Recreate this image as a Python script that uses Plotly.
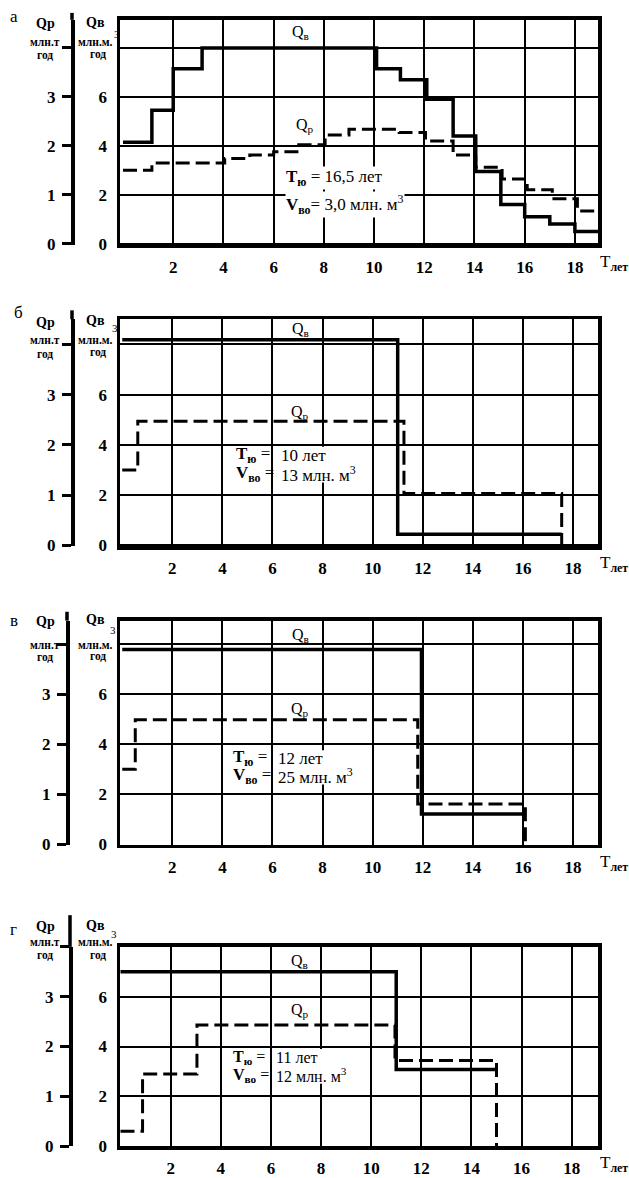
import plotly.graph_objects as go

W, H = 629, 1178
SERIF = "Liberation Serif"

# ---- panel а: stepwise rates ----
a_qv_t = [0, 1.15, 2.0, 3.15, 10.1, 11.05, 12.1, 13.15, 14.05, 15.05, 16.0, 17.0, 18.0, 18.92]
a_qv = [4.15, 5.45, 7.15, 8.0, 7.15, 6.7, 5.9, 4.4, 2.95, 1.6, 1.1, 0.8, 0.5]
a_qp_t = [0, 1.15, 4.05, 5.05, 6.0, 7.0, 8.05, 9.0, 11.0, 12.05, 13.15, 14.05, 15.1, 16.1, 17.1, 18.1, 18.92]
a_qp = [1.5, 1.65, 1.74, 1.81, 1.88, 2.02, 2.22, 2.34, 2.27, 2.1, 1.81, 1.56, 1.32, 1.1, 0.92, 0.67]

# ---- panel б ----
b_qv_t = [0, 11.0, 17.55]
b_qv = [8.18, 0.44]
b_qp_t = [0, 0.62, 11.25, 17.55]
b_qp = [1.5, 2.47, 1.03]

# ---- panel в ----
v_qv_t = [0, 11.95, 16.05]
v_qv = [7.8, 1.2]
v_qp_t = [0, 0.52, 11.8, 16.1]
v_qp = [1.5, 2.49, 0.8]

# ---- panel г ----
g_qv_t = [0, 11.0, 15.0]
g_qv = [7.0, 3.08]
g_qp_t = [0, 0.88, 3.05, 10.95, 15.0]
g_qp = [0.3, 1.45, 2.43, 1.72]

x_ticks = [2, 4, 6, 8, 10, 12, 14, 16, 18]
qv_ticks = [0, 2, 4, 6, 8]
qv_tick_text = ["0", "2", "4", "6", ""]
qp_ticks = [0, 1, 2, 3, 4]
qp_tick_text = ["0", "1", "2", "3", ""]

panels = [
    dict(letter="а", qv_t=a_qv_t, qv=a_qv, qp_t=a_qp_t, qp=a_qp, drop=False,
         t_text="16,5 лет", v_text="3,0 млн. м<sup>3</sup>", inline=True),
    dict(letter="б", qv_t=b_qv_t, qv=b_qv, qp_t=b_qp_t, qp=b_qp, drop=True,
         t_text="10 лет", v_text="13 млн. м<sup>3</sup>", inline=False),
    dict(letter="в", qv_t=v_qv_t, qv=v_qv, qp_t=v_qp_t, qp=v_qp, drop=True,
         t_text="12 лет", v_text="25 млн. м<sup>3</sup>", inline=False),
    dict(letter="г", qv_t=g_qv_t, qv=g_qv, qp_t=g_qp_t, qp=g_qp, drop=True,
         t_text="11 лет", v_text="12 млн. м<sup>3</sup>", inline=False),
]

# frame geometry (pixels) and axis ranges for each panel
frames = [
    dict(top=20, bottom=247, xr=[-0.12, 18.92], yr=[-0.05, 9.15], axis_px=72, ext=7,
         letter_xy=(14, 17), qp_y=(24, 42, 55), qv_y=(23, 42, 54), sup=(117, 34),
         qv_lab=(7.05, 8.63), qp_lab=(7.25, 4.83),
         rows=((6.45, 2.7), (6.45, 1.6)), box_size=17),
    dict(top=322, bottom=551, xr=[-0.09, 19.0], yr=[-0.04, 9.0], axis_px=72, ext=9,
         letter_xy=(18, 315), qp_y=(325, 343, 357), qv_y=(323, 343, 355), sup=(115, 331),
         qv_lab=(7.1, 8.59), qp_lab=(7.1, 5.3),
         rows=((4.5, 3.59), (4.5, 2.83)), val_x=6.3, box_size=17),
    dict(top=626, bottom=852, xr=[-0.09, 19.0], yr=[-0.03, 8.95], axis_px=67, ext=9,
         letter_xy=(14, 626), qp_y=(627, 651, 663), qv_y=(625, 651, 662), sup=(113, 635),
         qv_lab=(7.1, 8.37), qp_lab=(7.1, 5.4),
         rows=((4.39, 3.43), (4.39, 2.72)), val_x=6.19, box_size=17),
    dict(top=955, bottom=1156, xr=[-0.02, 19.05], yr=[0.0, 8.0], axis_px=70, ext=32,
         letter_xy=(14, 937), qp_y=(934, 950, 963), qv_y=(933, 950, 963), sup=(114, 942),
         qv_lab=(7.15, 7.42), qp_lab=(7.15, 5.43),
         rows=((4.45, 3.57), (4.45, 2.84)), val_x=6.17, box_size=16),
]

X0, X1 = 120 / W, 598 / W


def px(x):
    return x / W


def py(y):
    return 1 - y / H


def steps(t, v, drop):
    xs = list(t[:-1]) + [t[-1]]
    ys = list(v) + [v[-1]]
    if drop:
        xs.append(t[-1])
        ys.append(0)
    return xs, ys


def paper_text(text, x, y, size, bold=False):
    return dict(text=f"<b>{text}</b>" if bold else text, x=px(x), y=py(y),
                xref="paper", yref="paper", xanchor="center", yanchor="middle",
                showarrow=False, borderpad=0,
                font=dict(family=SERIF, size=size, color="black"))


fig = go.Figure()
layout = {}
annotations = []
shapes = []

for k, (p, f) in enumerate(zip(panels, frames)):
    xi = k + 1
    y_main, y_qp, y_tick = 3 * k + 1, 3 * k + 2, 3 * k + 3
    xname = "x" if xi == 1 else f"x{xi}"
    yname = "y" if y_main == 1 else f"y{y_main}"
    dom = [py(f["bottom"]), py(f["top"])]
    qp_range = [f["yr"][0] / 2, f["yr"][1] / 2]
    pos = px(f["axis_px"])

    xs, ys = steps(p["qv_t"], p["qv"], False)
    fig.add_trace(go.Scatter(x=xs, y=ys, mode="lines", line_shape="hv",
                             line=dict(color="black", width=3.5),
                             xaxis=xname, yaxis=yname, showlegend=False, hoverinfo="skip"))
    xs, ys = steps(p["qp_t"], p["qp"], p["drop"])
    fig.add_trace(go.Scatter(x=xs, y=ys, mode="lines", line_shape="hv",
                             line=dict(color="black", width=3, dash="14px,6px"),
                             xaxis=xname, yaxis=f"y{y_qp}", showlegend=False, hoverinfo="skip"))

    layout["xaxis" if xi == 1 else f"xaxis{xi}"] = dict(
        domain=[X0, X1], anchor=yname, range=f["xr"], tickvals=x_ticks,
        ticks="", showgrid=True, gridcolor="black", gridwidth=2, zeroline=False,
        showline=True, linecolor="black", linewidth=3.5, mirror=True,
        tickfont=dict(family=SERIF, size=17, color="black", weight="bold"),
        ticklabelstandoff=4, fixedrange=True)
    layout["yaxis" if y_main == 1 else f"yaxis{y_main}"] = dict(
        domain=dom, anchor=xname, range=f["yr"], tickvals=qv_ticks, ticktext=qv_tick_text,
        ticks="", showgrid=True, gridcolor="black", gridwidth=2, zeroline=False,
        showline=True, linecolor="black", linewidth=3.5, mirror=True,
        tickfont=dict(family=SERIF, size=17, color="black", weight="bold"),
        ticklabelstandoff=6, fixedrange=True)
    layout[f"yaxis{y_qp}"] = dict(
        overlaying=yname, anchor="free", position=pos, side="left", range=qp_range,
        tickvals=qp_ticks, ticktext=qp_tick_text, ticks="outside", ticklen=9, tickwidth=3,
        tickcolor="black", showgrid=False, zeroline=False, showline=True,
        linecolor="black", linewidth=3.5,
        tickfont=dict(family=SERIF, size=17, color="black", weight="bold"),
        ticklabelstandoff=3, fixedrange=True)
    layout[f"yaxis{y_tick}"] = dict(
        overlaying=yname, anchor="free", position=pos, side="left", range=qp_range,
        tickvals=qp_ticks, ticks="inside", ticklen=6, tickwidth=3, tickcolor="black",
        showticklabels=False, showgrid=False, zeroline=False, showline=False,
        fixedrange=True)

    # Qр axis line continues a little above the frame
    shapes.append(dict(type="line", xref="paper", yref="paper", x0=pos, x1=pos,
                       y0=py(f["top"]), y1=py(f["top"] - f["ext"]),
                       line=dict(color="black", width=3.5)))

    # panel letter and axis captions
    lx, ly = f["letter_xy"]
    annotations.append(paper_text(p["letter"], lx, ly, 17))
    annotations.append(paper_text("Qр", 45, f["qp_y"][0], 14, bold=True))
    annotations.append(paper_text("млн.т", 45, f["qp_y"][1], 11.5, bold=True))
    annotations.append(paper_text("год", 45, f["qp_y"][2], 11.5, bold=True))
    annotations.append(paper_text("Qв", 95, f["qv_y"][0], 14, bold=True))
    annotations.append(paper_text("млн.м.", 95, f["qv_y"][1], 11.5, bold=True))
    annotations.append(paper_text("год", 98, f["qv_y"][2], 11.5, bold=True))
    annotations.append(paper_text("3", f["sup"][0], f["sup"][1], 11))

    # x-axis title at the right end
    annotations.append(dict(text="T<sub><b>лет</b></sub>", x=1.0, y=0, xref=f"{xname} domain",
                            yref=f"{yname} domain", xanchor="left", yanchor="middle",
                            xshift=0, yshift=-18, showarrow=False,
                            font=dict(family=SERIF, size=17, color="black")))

    # curve labels
    annotations.append(dict(text="Q<sub>в</sub>", x=f["qv_lab"][0], y=f["qv_lab"][1],
                            xref=xname, yref=yname, xanchor="center", yanchor="middle",
                            showarrow=False, font=dict(family=SERIF, size=16, color="black")))
    annotations.append(dict(text="Q<sub>р</sub>", x=f["qp_lab"][0], y=f["qp_lab"][1],
                            xref=xname, yref=yname, xanchor="center", yanchor="middle",
                            showarrow=False, font=dict(family=SERIF, size=16, color="black")))

    # deposit parameters
    box_font = dict(family=SERIF, size=f["box_size"], color="black")
    (rx1, ry1), (rx2, ry2) = f["rows"]
    t_lab = "<b>T</b><sub><b>ю</b></sub>"
    v_lab = "<b>V</b><sub><b>во</b></sub>"
    common = dict(xref=xname, yref=yname, xanchor="left", yanchor="middle",
                  showarrow=False, borderpad=0, font=box_font)
    if p["inline"]:
        annotations.append(dict(common, text=f"{t_lab} = {p['t_text']}", x=rx1, y=ry1,
                                bgcolor="white"))
        annotations.append(dict(common, text=f"{v_lab}= {p['v_text']}", x=rx2, y=ry2,
                                bgcolor="white"))
    else:
        # white patch under the values hides the grid behind them
        shapes.append(dict(type="rect", xref=xname, yref=yname, layer="between",
                           x0=f["val_x"], x1=f["val_x"] + 3.0,
                           y0=ry2 - 0.33, y1=ry1 + 0.33,
                           fillcolor="white", line=dict(width=0)))
        for lab, val, yy in [(t_lab + " =", p["t_text"], ry1), (v_lab + " =", p["v_text"], ry2)]:
            annotations.append(dict(common, text=lab, x=rx1, y=yy))
            annotations.append(dict(common, text=val, x=f["val_x"], y=yy))

fig.update_layout(
    width=W, height=H, margin=dict(l=0, r=0, t=0, b=0),
    paper_bgcolor="white", plot_bgcolor="white", showlegend=False,
    annotations=annotations, shapes=shapes, hovermode=False, **layout)

fig.write_html("out.html", config=dict(displayModeBar=False, staticPlot=True))
